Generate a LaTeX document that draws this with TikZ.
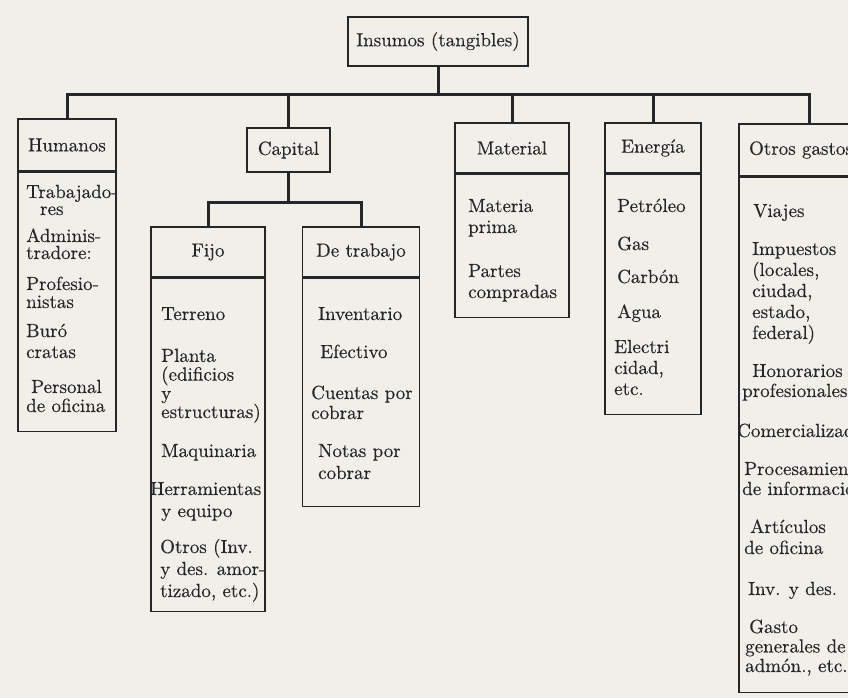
\documentclass[tikz,border=0pt]{standalone}
\usepackage{fontspec}
\newfontfamily\bxfont{lmroman10-regular.otf}[FakeBold=0.35]
\newfontfamily\topfont{lmroman10-regular.otf}[FakeBold=0.35]
\definecolor{paper}{HTML}{F1EFEA}
\definecolor{ink}{HTML}{262626}
\begin{document}
\begin{tikzpicture}[x=1pt,y=-1pt,
  box/.style={draw=ink, line width=1.4pt, inner sep=0pt, text=ink,
    font=\bxfont\fontsize{19}{20}\selectfont},
  bodyb/.style={box, anchor=north},
  item/.style={anchor=base west, align=left, inner sep=0pt, text=ink,
    font=\bxfont\fontsize{19}{20}\selectfont},
  conn/.style={draw=ink, line width=3pt, line join=miter},
]
\useasboundingbox (0,0) rectangle (848,698);
\fill[paper] (0,0) rectangle (848,698);
\clip (0,0) rectangle (848,698);

% top
\node[box, minimum width=180, minimum height=49, font=\topfont\fontsize{19}{22}\selectfont] (top) at (438,41.5) {Insumos (tangibles)};

% level 1 headers
\node[box, minimum width=98, minimum height=52] (hum) at (67,145) {Humanos};
\node[bodyb, minimum width=98, minimum height=259] (humB) at (hum.south) {};
\node[box, minimum width=83, minimum height=44] (cap) at (288.5,150) {Capital};
\node[box, minimum width=114, minimum height=50] (mat) at (512,148) {Material};
\node[bodyb, minimum width=114, minimum height=143] (matB) at (mat.south) {};
\node[box, minimum width=96, minimum height=50] (ene) at (653,148) {Energía};
\node[bodyb, minimum width=96, minimum height=240] (eneB) at (ene.south) {};
\node[box, minimum width=140, minimum height=52] (otr) at (809,150) {\hspace*{-16pt}Otros gastos};
\node[bodyb, minimum width=140, minimum height=515] (otrB) at (otr.south) {};

% level 2
\node[box, minimum width=114, minimum height=50] (fij) at (208,252) {Fijo};
\node[bodyb, minimum width=114, minimum height=333] (fijB) at (fij.south) {};
\node[box, minimum width=117, minimum height=50] (trb) at (361,252) {De trabajo};
\node[bodyb, minimum width=117, minimum height=228] (trbB) at (trb.south) {};

% connectors
\coordinate (bus) at (438,95);
\draw[conn] (top.south) -- (bus);
\draw[conn] (hum.north) -- (hum.north |- bus) -- (otr.north |- bus) -- (otr.north);
\draw[conn] (cap.north) -- (cap.north |- bus);
\draw[conn] (mat.north) -- (mat.north |- bus);
\draw[conn] (ene.north) -- (ene.north |- bus);
\coordinate (bus2) at (288.5,202);
\draw[conn] (cap.south) -- (bus2);
\draw[conn] (fij.north) -- (fij.north |- bus2) -- (trb.north |- bus2) -- (trb.north);

% Humanos items (y = baseline of last line)
\node[item, font=\bxfont\fontsize{19}{17}\selectfont] (h1) at (26,215) {Trabajado-\\\hspace*{14pt}res};
\node[item, font=\bxfont\fontsize{19}{17}\selectfont] (h2) at (26,259) {Adminis-\\tradore:};
\node[item, font=\bxfont\fontsize{19}{18}\selectfont] (h3) at (26,308) {Profesio-\\nistas};
\node[item, font=\bxfont\fontsize{19}{21}\selectfont] (h4) at (26,358) {Buró\\cratas};
\node[item, font=\bxfont\fontsize{19}{19}\selectfont] (h5) at (26,412) {\hspace*{5pt}Personal\\de oficina};

% Fijo items
\node[item] (f1) at (161,320) {Terreno};
\node[item, font=\bxfont\fontsize{19}{18.7}\selectfont] (f2) at (161,418) {Planta\\(edificios\\y\\estructuras)};
\node[item] (f3) at (161,457) {Maquinaria};
\node[item, font=\bxfont\fontsize{19}{22}\selectfont] (f4) at (150,517) {Herramientas\\\hspace*{11pt}y equipo};
\node[item, font=\bxfont\fontsize{19}{22}\selectfont] (f5) at (160,597) {Otros (Inv.\\y des. amor-\\tizado, etc.)};

% De trabajo items
\node[item] (t1) at (318,320) {Inventario};
\node[item] (t2) at (320,358) {Efectivo};
\node[item, font=\bxfont\fontsize{19}{20}\selectfont] (t3) at (311,419) {Cuentas por\\cobrar};
\node[item, font=\bxfont\fontsize{19}{22}\selectfont] (t4) at (318,479) {Notas por\\cobrar};

% Material items
\node[item, font=\bxfont\fontsize{19}{21}\selectfont] (m1) at (468,233) {Materia\\prima};
\node[item, font=\bxfont\fontsize{19}{21}\selectfont] (m2) at (468,298) {Partes\\compradas};

% Energia items
\node[item] (e1) at (617,212) {Petróleo};
\node[item] (e2) at (617,250) {Gas};
\node[item] (e3) at (617,283) {Carbón};
\node[item] (e4) at (617,318) {Agua};
\node[item, font=\bxfont\fontsize{19}{21}\selectfont] (e5) at (614,395) {Electri\\cidad,\\etc.};

% Otros gastos items
\node[item] (o1) at (753,217) {Viajes};
\node[item, font=\bxfont\fontsize{19}{21}\selectfont] (o2) at (752,339) {Impuestos\\(locales,\\ciudad,\\estado,\\federal)};
\node[item, font=\bxfont\fontsize{19}{20}\selectfont] (o3) at (742,397) {\hspace*{10pt}Honorarios\\profesionales};
\node[item] (o4) at (737,437) {Comercialización};
\node[item, font=\bxfont\fontsize{19}{20}\selectfont] (o5) at (742,495) {\hspace*{2pt}Procesamiento\\de información};
\node[item, font=\bxfont\fontsize{19}{21}\selectfont] (o6) at (744,554) {\hspace*{6pt}Artículos\\de oficina};
\node[item] (o7) at (748,595) {Inv. y des.};
\node[item, font=\bxfont\fontsize{19}{19.5}\selectfont] (o8) at (745,672) {\hspace*{4pt}Gasto\\generales de\\admón., etc.};
\end{tikzpicture}
\end{document}
